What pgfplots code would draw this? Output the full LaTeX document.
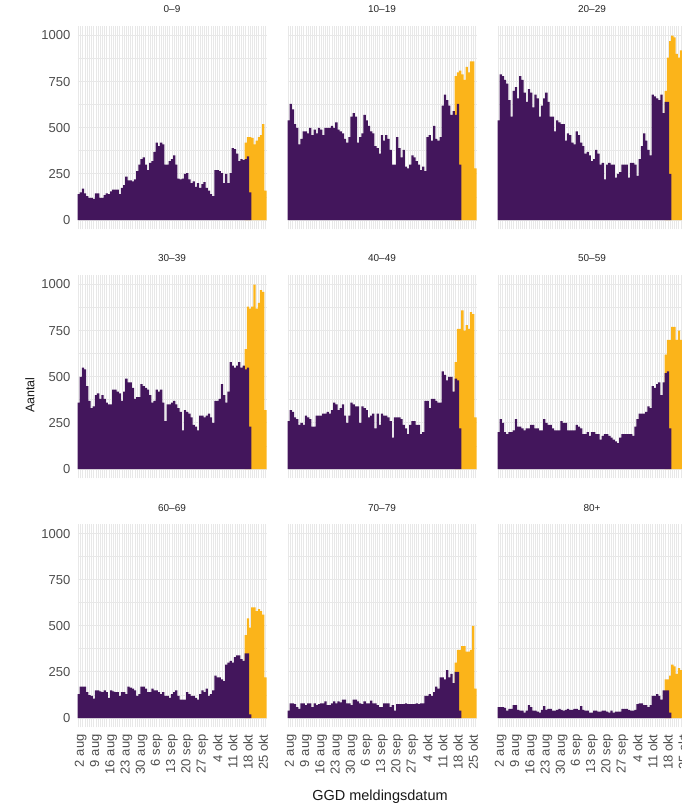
\documentclass[border=0pt]{standalone}
\usepackage{fontspec}
\setmainfont{Liberation Sans}
\usepackage{pgfplots}
\pgfplotsset{compat=1.18}

\definecolor{vpurple}{RGB}{67,22,92}
\definecolor{vorange}{RGB}{251,180,26}
\definecolor{gridc}{RGB}{232,232,232}
\definecolor{labc}{RGB}{77,77,77}

\pgfplotsset{
  panel/.style={
    scale only axis, width=189pt, height=203pt, anchor=south west,
    xmin=-0.5, xmax=86.5, ymin=-50, ymax=1050,
    axis line style={draw=none},
    major tick length=0pt, minor tick length=0pt,
    xtick={1,8,...,85}, minor xtick={0,...,86},
    ytick={0,250,...,1000}, minor ytick={125,375,...,875},
    grid=both,
    major grid style={draw=gridc, line width=0.9pt},
    minor grid style={draw=gridc, line width=0.9pt},
    xticklabels={}, yticklabels={},
    title style={at={(0.5,1)}, anchor=south, yshift=7pt, inner sep=0pt,
      font=\fontsize{10}{11}\selectfont, text=black!85},
    ticklabel style={font=\fontsize{13}{14}\selectfont, text=labc},
  },
  ylab/.style={yticklabels={0,250,500,750,1000},
    yticklabel style={anchor=east, inner sep=0pt}, yticklabel shift=7pt},
  xlab/.style={xticklabels={2 aug,9 aug,16 aug,23 aug,30 aug,6 sep,13 sep,20 sep,27 sep,4 okt,11 okt,18 okt,25 okt},
    xticklabel style={rotate=90, anchor=east, inner sep=0pt}, xticklabel shift=7pt},
  oo/.style={ybar, bar width=1.05, bar shift=0pt, fill=vorange, draw=none},
  pp/.style={ybar, bar width=1.05, bar shift=0pt, fill=vpurple, draw=none},
}

\begin{document}
\begin{tikzpicture}[x=1pt,y=1pt]
\path[use as bounding box] (0,0) rectangle (681,811);

% ---- row 1 ----
\begin{axis}[panel, ylab, at={(77.5pt,581.7pt)}, title={0–9}]
\addplot[oo] coordinates {(77,420)(78,450)(79,450)(80,445)(81,410)(82,430)(83,450)(84,460)(85,520)(86,160)};
\addplot[pp] coordinates {
(0,140)(1,150)(2,170)(3,145)(4,130)(5,120)(6,120)(7,115)(8,145)(9,145)
(10,120)(11,120)(12,135)(13,145)(14,140)(15,155)(16,165)(17,165)(18,165)(19,140)
(20,175)(21,190)(22,235)(23,215)(24,215)(25,210)(26,220)(27,265)(28,300)(29,330)
(30,340)(31,300)(32,270)(33,310)(34,320)(35,370)(36,420)(37,400)(38,420)(39,410)
(40,300)(41,300)(42,320)(43,330)(44,350)(45,300)(46,225)(47,220)(48,225)(49,250)
(50,255)(51,220)(52,200)(53,210)(54,180)(55,200)(56,175)(57,195)(58,205)(59,175)
(60,160)(61,140)(62,130)(63,270)(64,270)(65,265)(66,255)(67,200)(68,250)(69,200)
(70,255)(71,390)(72,385)(73,360)(74,320)(75,330)(76,325)(77,330)(78,345)(79,150)};
\end{axis}

\begin{axis}[panel, at={(287.5pt,581.7pt)}, title={10–19}]
\addplot[oo] coordinates {(77,780)(78,800)(79,810)(80,790)(81,760)(82,830)(83,800)(84,860)(85,860)(86,280)};
\addplot[pp] coordinates {
(0,540)(1,630)(2,600)(3,520)(4,500)(5,410)(6,440)(7,480)(8,480)(9,470)
(10,500)(11,460)(12,490)(13,470)(14,500)(15,490)(16,460)(17,500)(18,500)(19,500)
(20,510)(21,500)(22,530)(23,490)(24,480)(25,470)(26,440)(27,420)(28,450)(29,560)
(30,580)(31,560)(32,420)(33,450)(34,470)(35,570)(36,540)(37,510)(38,480)(39,470)
(40,400)(41,390)(42,360)(43,460)(44,430)(45,460)(46,440)(47,380)(48,300)(49,300)
(50,450)(51,390)(52,340)(53,380)(54,290)(55,280)(56,300)(57,350)(58,340)(59,320)
(60,300)(61,270)(62,290)(63,265)(64,450)(65,460)(66,430)(67,510)(68,440)(69,430)
(70,450)(71,620)(72,680)(73,650)(74,620)(75,570)(76,590)(77,570)(78,630)(79,300)};
\end{axis}

\begin{axis}[panel, at={(497.5pt,581.7pt)}, title={20–29}]
\addplot[oo] coordinates {(77,700)(78,880)(79,970)(80,1000)(81,990)(82,900)(83,880)(84,920)(85,950)(86,300)};
\addplot[pp] coordinates {
(0,540)(1,790)(2,780)(3,760)(4,740)(5,650)(6,560)(7,700)(8,720)(9,660)
(10,780)(11,760)(12,690)(13,640)(14,710)(15,690)(16,610)(17,680)(18,660)(19,560)
(20,620)(21,660)(22,690)(23,640)(24,560)(25,560)(26,480)(27,540)(28,530)(29,520)
(30,520)(31,430)(32,470)(33,460)(34,420)(35,410)(36,480)(37,460)(38,420)(39,400)
(40,360)(41,370)(42,350)(43,320)(44,330)(45,380)(46,360)(47,300)(48,310)(49,220)
(50,300)(51,310)(52,300)(53,300)(54,230)(55,250)(56,260)(57,300)(58,300)(59,300)
(60,230)(61,310)(62,310)(63,300)(64,240)(65,330)(66,400)(67,470)(68,430)(69,380)
(70,350)(71,680)(72,670)(73,660)(74,650)(75,680)(76,580)(77,640)(78,640)(79,250)};
\end{axis}

% ---- row 2 ----
\begin{axis}[panel, ylab, at={(77.5pt,332.7pt)}, title={30–39}]
\addplot[oo] coordinates {(77,650)(78,880)(79,870)(80,880)(81,1000)(82,870)(83,900)(84,970)(85,960)(86,320)};
\addplot[pp] coordinates {
(0,360)(1,500)(2,550)(3,540)(4,450)(5,370)(6,330)(7,340)(8,400)(9,410)
(10,380)(11,400)(12,380)(13,360)(14,350)(15,350)(16,430)(17,430)(18,420)(19,410)
(20,370)(21,420)(22,490)(23,470)(24,470)(25,440)(26,380)(27,390)(28,390)(29,460)
(30,450)(31,440)(32,430)(33,400)(34,360)(35,370)(36,430)(37,420)(38,430)(39,360)
(40,260)(41,350)(42,350)(43,360)(44,370)(45,350)(46,330)(47,310)(48,210)(49,320)
(50,310)(51,300)(52,280)(53,240)(54,230)(55,210)(56,290)(57,290)(58,280)(59,290)
(60,300)(61,280)(62,250)(63,370)(64,370)(65,380)(66,460)(67,400)(68,360)(69,420)
(70,580)(71,560)(72,550)(73,560)(74,580)(75,550)(76,560)(77,540)(78,550)(79,230)};
\end{axis}

\begin{axis}[panel, at={(287.5pt,332.7pt)}, title={40–49}]
\addplot[oo] coordinates {(77,580)(78,760)(79,760)(80,860)(81,750)(82,780)(83,760)(84,850)(85,840)(86,280)};
\addplot[pp] coordinates {
(0,260)(1,320)(2,310)(3,280)(4,270)(5,240)(6,250)(7,240)(8,290)(9,280)
(10,270)(11,230)(12,230)(13,290)(14,290)(15,290)(16,300)(17,300)(18,310)(19,300)
(20,320)(21,360)(22,350)(23,320)(24,330)(25,350)(26,290)(27,250)(28,290)(29,360)
(30,350)(31,340)(32,340)(33,250)(34,340)(35,330)(36,320)(37,280)(38,290)(39,300)
(40,220)(41,300)(42,240)(43,300)(44,290)(45,290)(46,280)(47,260)(48,170)(49,280)
(50,280)(51,280)(52,270)(53,240)(54,220)(55,190)(56,240)(57,260)(58,260)(59,240)
(60,240)(61,190)(62,200)(63,370)(64,370)(65,330)(66,380)(67,380)(68,370)(69,360)
(70,360)(71,530)(72,510)(73,480)(74,500)(75,500)(76,420)(77,490)(78,480)(79,220)};
\end{axis}

\begin{axis}[panel, at={(497.5pt,332.7pt)}, title={50–59}]
\addplot[oo] coordinates {(77,620)(78,700)(79,700)(80,770)(81,770)(82,700)(83,750)(84,700)(85,690)(86,250)};
\addplot[pp] coordinates {
(0,200)(1,270)(2,250)(3,200)(4,190)(5,200)(6,200)(7,210)(8,270)(9,230)
(10,230)(11,220)(12,210)(13,220)(14,220)(15,240)(16,240)(17,220)(18,220)(19,210)
(20,210)(21,270)(22,250)(23,240)(24,240)(25,220)(26,210)(27,210)(28,210)(29,260)
(30,250)(31,250)(32,210)(33,210)(34,210)(35,210)(36,240)(37,230)(38,220)(39,190)
(40,190)(41,200)(42,180)(43,200)(44,200)(45,190)(46,190)(47,160)(48,180)(49,190)
(50,190)(51,180)(52,170)(53,160)(54,150)(55,140)(56,170)(57,190)(58,190)(59,190)
(60,190)(61,190)(62,180)(63,230)(64,270)(65,300)(66,300)(67,300)(68,310)(69,340)
(70,330)(71,450)(72,440)(73,460)(74,470)(75,400)(76,470)(77,520)(78,530)(79,220)};
\end{axis}

% ---- row 3 ----
\begin{axis}[panel, ylab, xlab, at={(77.5pt,83.7pt)}, title={60–69}]
\addplot[oo] coordinates {(77,450)(78,540)(79,490)(80,600)(81,600)(82,580)(83,590)(84,580)(85,560)(86,220)};
\addplot[pp] coordinates {
(0,130)(1,170)(2,170)(3,170)(4,140)(5,125)(6,120)(7,105)(8,150)(9,150)
(10,145)(11,140)(12,150)(13,140)(14,110)(15,150)(16,145)(17,140)(18,140)(19,120)
(20,140)(21,140)(22,130)(23,170)(24,165)(25,160)(26,150)(27,120)(28,130)(29,170)
(30,170)(31,160)(32,140)(33,140)(34,160)(35,150)(36,150)(37,140)(38,130)(39,140)
(40,120)(41,120)(42,110)(43,130)(44,140)(45,150)(46,120)(47,100)(48,100)(49,100)
(50,140)(51,130)(52,120)(53,120)(54,110)(55,100)(56,130)(57,150)(58,140)(59,160)
(60,120)(61,130)(62,150)(63,230)(64,220)(65,220)(66,210)(67,200)(68,290)(69,300)
(70,310)(71,300)(72,330)(73,340)(74,340)(75,320)(76,310)(77,350)(78,350)(79,20)};
\end{axis}

\begin{axis}[panel, xlab, at={(287.5pt,83.7pt)}, title={70–79}]
\addplot[oo] coordinates {(77,300)(78,370)(79,370)(80,390)(81,390)(82,360)(83,360)(84,370)(85,500)(86,160)};
\addplot[pp] coordinates {
(0,40)(1,80)(2,80)(3,75)(4,60)(5,50)(6,80)(7,80)(8,70)(9,80)
(10,80)(11,60)(12,80)(13,70)(14,75)(15,80)(16,80)(17,90)(18,70)(19,70)
(20,80)(21,90)(22,80)(23,90)(24,85)(25,100)(26,100)(27,80)(28,80)(29,70)
(30,100)(31,100)(32,90)(33,80)(34,75)(35,90)(36,80)(37,80)(38,95)(39,80)
(40,80)(41,70)(42,60)(43,60)(44,80)(45,80)(46,80)(47,60)(48,70)(49,40)
(50,75)(51,75)(52,75)(53,75)(54,80)(55,75)(56,75)(57,75)(58,75)(59,80)
(60,75)(61,80)(62,80)(63,120)(64,120)(65,130)(66,120)(67,140)(68,170)(69,160)
(70,220)(71,220)(72,210)(73,260)(74,220)(75,240)(76,190)(77,250)(78,250)(79,40)};
\end{axis}

\begin{axis}[panel, xlab, at={(497.5pt,83.7pt)}, title={80+}]
\addplot[oo] coordinates {(77,210)(78,210)(79,230)(80,290)(81,280)(82,240)(83,270)(84,260)(85,250)(86,100)};
\addplot[pp] coordinates {
(0,60)(1,60)(2,60)(3,55)(4,40)(5,50)(6,50)(7,70)(8,70)(9,45)
(10,40)(11,40)(12,30)(13,40)(14,70)(15,60)(16,40)(17,40)(18,35)(19,30)
(20,45)(21,65)(22,45)(23,50)(24,50)(25,40)(26,40)(27,45)(28,50)(29,45)
(30,40)(31,45)(32,50)(33,45)(34,45)(35,50)(36,50)(37,45)(38,65)(39,45)
(40,40)(41,40)(42,30)(43,30)(44,40)(45,40)(46,35)(47,35)(48,40)(49,40)
(50,35)(51,30)(52,40)(53,30)(54,35)(55,35)(56,35)(57,50)(58,50)(59,50)
(60,45)(61,40)(62,40)(63,45)(64,75)(65,80)(66,80)(67,70)(68,70)(69,60)
(70,70)(71,120)(72,120)(73,130)(74,120)(75,100)(76,150)(77,150)(78,150)(79,30)};
\end{axis}

\node[rotate=90, font=\fontsize{12.5}{13}\selectfont, text=black!90] at (30,416) {Aantal};
\node[font=\fontsize{14.5}{15}\selectfont, text=black!90] at (380,14) {GGD meldingsdatum};
\end{tikzpicture}
\end{document}
